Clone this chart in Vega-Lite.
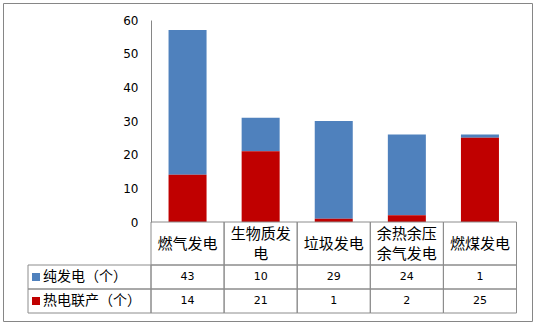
{
  "$schema": "https://vega.github.io/schema/vega-lite/v6.json",
  "width": 529,
  "height": 318,
  "autosize": {"type": "none"},
  "padding": {"left": 3, "top": 3, "right": 4, "bottom": 4},
  "background": "white",
  "config": {
    "view": {"stroke": "#868686", "strokeWidth": 1},
    "text": {"font": "Noto Sans CJK SC", "color": "black"}
  },
  "datasets": {
    "bars": [
      {"cat": "燃气发电", "series": "纯发电（个）", "value": 43},
      {"cat": "生物质发电", "series": "纯发电（个）", "value": 10},
      {"cat": "垃圾发电", "series": "纯发电（个）", "value": 29},
      {"cat": "余热余压余气发电", "series": "纯发电（个）", "value": 24},
      {"cat": "燃煤发电", "series": "纯发电（个）", "value": 1},
      {"cat": "燃气发电", "series": "热电联产（个）", "value": 14},
      {"cat": "生物质发电", "series": "热电联产（个）", "value": 21},
      {"cat": "垃圾发电", "series": "热电联产（个）", "value": 1},
      {"cat": "余热余压余气发电", "series": "热电联产（个）", "value": 2},
      {"cat": "燃煤发电", "series": "热电联产（个）", "value": 25}
    ],
    "cats": [
      {"cat": "燃气发电", "label": "燃气发电"},
      {"cat": "生物质发电", "label": "生物质发\n电"},
      {"cat": "垃圾发电", "label": "垃圾发电"},
      {"cat": "余热余压余气发电", "label": "余热余压\n余气发电"},
      {"cat": "燃煤发电", "label": "燃煤发电"}
    ],
    "series": [
      {"series": "纯发电（个）"},
      {"series": "热电联产（个）"}
    ]
  },
  "resolve": {"scale": {"x": "independent", "y": "independent"}},
  "layer": [
    {
      "data": {"name": "bars"},
      "mark": {"type": "bar", "width": {"band": 0.52}},
      "encoding": {
        "x": {"field": "cat", "type": "nominal", "sort": null, "axis": null,
              "scale": {"domain": ["燃气发电", "生物质发电", "垃圾发电", "余热余压余气发电", "燃煤发电"], "range": [148, 513.5], "paddingInner": 0, "paddingOuter": 0}},
        "y": {"field": "value", "type": "quantitative", "stack": "zero",
              "scale": {"domain": [0, 60], "range": [219, 17], "nice": false},
              "axis": {"offset": -148, "values": [0, 10, 20, 30, 40, 50, 60], "ticks": false, "grid": false,
                       "domainColor": "#868686", "labelPadding": 13, "labelFont": "DejaVu Sans", "labelFontSize": 12,
                       "labelColor": "black", "title": null}},
        "color": {"field": "series", "type": "nominal", "legend": null,
                  "scale": {"domain": ["纯发电（个）", "热电联产（个）"], "range": ["#4F81BD", "#C00000"]}},
        "order": {"field": "series", "sort": "ascending"}
      }
    },
    {
      "data": {"name": "cats"},
      "mark": {"type": "rect", "filled": false, "stroke": "#8c8c8c", "strokeWidth": 1},
      "encoding": {
        "x": {"field": "cat", "type": "nominal", "sort": null, "axis": null,
              "scale": {"domain": ["燃气发电", "生物质发电", "垃圾发电", "余热余压余气发电", "燃煤发电"], "range": [148, 513.5], "paddingInner": 0, "paddingOuter": 0}},
        "y": {"datum": "header", "type": "nominal", "axis": null,
              "scale": {"domain": ["header"], "range": [219, 262], "paddingInner": 0, "paddingOuter": 0}}
      }
    },
    {
      "data": {"name": "cats"},
      "transform": [{"filter": {"not": {"field": "cat", "oneOf": ["生物质发电", "余热余压余气发电"]}}}],
      "mark": {"type": "text", "fontSize": 15, "baseline": "middle", "align": "center"},
      "encoding": {
        "x": {"field": "cat", "type": "nominal", "sort": null, "axis": null,
              "scale": {"domain": ["燃气发电", "生物质发电", "垃圾发电", "余热余压余气发电", "燃煤发电"], "range": [148, 513.5], "paddingInner": 0, "paddingOuter": 0}},
        "y": {"datum": "header", "type": "nominal", "axis": null,
              "scale": {"domain": ["header"], "range": [219, 262], "paddingInner": 0, "paddingOuter": 0}},
        "text": {"field": "label"}
      }
    },
    {
      "data": {"name": "cats"},
      "transform": [{"filter": {"field": "cat", "oneOf": ["生物质发电", "余热余压余气发电"]}}],
      "mark": {"type": "text", "fontSize": 15, "lineBreak": "\n", "lineHeight": 20, "baseline": "middle", "align": "center", "dy": -10},
      "encoding": {
        "x": {"field": "cat", "type": "nominal", "sort": null, "axis": null,
              "scale": {"domain": ["燃气发电", "生物质发电", "垃圾发电", "余热余压余气发电", "燃煤发电"], "range": [148, 513.5], "paddingInner": 0, "paddingOuter": 0}},
        "y": {"datum": "header", "type": "nominal", "axis": null,
              "scale": {"domain": ["header"], "range": [219, 262], "paddingInner": 0, "paddingOuter": 0}},
        "text": {"field": "label"}
      }
    },
    {
      "data": {"name": "bars"},
      "mark": {"type": "rect", "filled": false, "stroke": "#8c8c8c", "strokeWidth": 1},
      "encoding": {
        "x": {"field": "cat", "type": "nominal", "sort": null, "axis": null,
              "scale": {"domain": ["燃气发电", "生物质发电", "垃圾发电", "余热余压余气发电", "燃煤发电"], "range": [148, 513.5], "paddingInner": 0, "paddingOuter": 0}},
        "y": {"field": "series", "type": "nominal", "axis": null,
              "scale": {"domain": ["纯发电（个）", "热电联产（个）"], "range": [262, 310], "paddingInner": 0, "paddingOuter": 0}}
      }
    },
    {
      "data": {"name": "bars"},
      "mark": {"type": "text", "font": "DejaVu Sans", "fontSize": 11, "baseline": "middle", "align": "center"},
      "encoding": {
        "x": {"field": "cat", "type": "nominal", "sort": null, "axis": null,
              "scale": {"domain": ["燃气发电", "生物质发电", "垃圾发电", "余热余压余气发电", "燃煤发电"], "range": [148, 513.5], "paddingInner": 0, "paddingOuter": 0}},
        "y": {"field": "series", "type": "nominal", "axis": null,
              "scale": {"domain": ["纯发电（个）", "热电联产（个）"], "range": [262, 310], "paddingInner": 0, "paddingOuter": 0}},
        "text": {"field": "value", "type": "quantitative"}
      }
    },
    {
      "data": {"name": "series"},
      "mark": {"type": "rect", "filled": false, "stroke": "#8c8c8c", "strokeWidth": 1},
      "encoding": {
        "x": {"datum": "label", "type": "nominal", "axis": null,
              "scale": {"domain": ["label"], "range": [25, 148], "paddingInner": 0, "paddingOuter": 0}},
        "y": {"field": "series", "type": "nominal", "axis": null,
              "scale": {"domain": ["纯发电（个）", "热电联产（个）"], "range": [262, 310], "paddingInner": 0, "paddingOuter": 0}}
      }
    },
    {
      "data": {"name": "series"},
      "mark": {"type": "point", "shape": "square", "filled": true, "size": 64, "opacity": 1, "xOffset": -53.5},
      "encoding": {
        "x": {"datum": "label", "type": "nominal", "axis": null,
              "scale": {"domain": ["label"], "range": [25, 148], "paddingInner": 0, "paddingOuter": 0}},
        "y": {"field": "series", "type": "nominal", "axis": null,
              "scale": {"domain": ["纯发电（个）", "热电联产（个）"], "range": [262, 310], "paddingInner": 0, "paddingOuter": 0}},
        "color": {"field": "series", "type": "nominal", "legend": null}
      }
    },
    {
      "data": {"name": "series"},
      "mark": {"type": "text", "fontSize": 14, "baseline": "middle", "align": "left", "dx": -46.5},
      "encoding": {
        "x": {"datum": "label", "type": "nominal", "axis": null,
              "scale": {"domain": ["label"], "range": [25, 148], "paddingInner": 0, "paddingOuter": 0}},
        "y": {"field": "series", "type": "nominal", "axis": null,
              "scale": {"domain": ["纯发电（个）", "热电联产（个）"], "range": [262, 310], "paddingInner": 0, "paddingOuter": 0}},
        "text": {"field": "series"}
      }
    }
  ]
}
